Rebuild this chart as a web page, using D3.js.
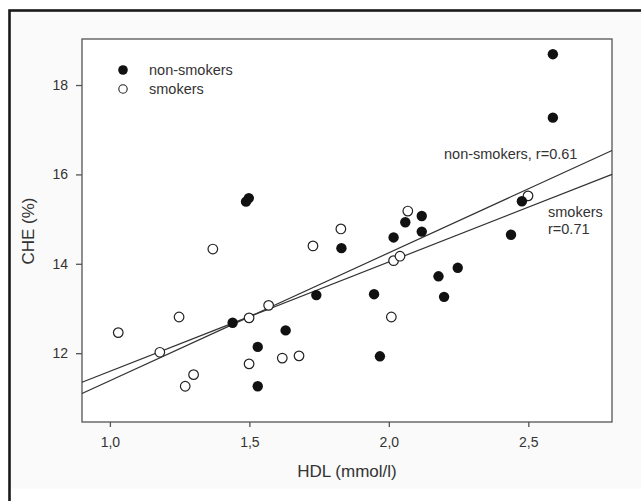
<!doctype html>
<html>
<head>
<style>
body { margin: 0; background: #fff; }
text { font-family: "Liberation Sans", Arial, sans-serif; fill: #333; }
.axis path, .axis line { stroke: #555; stroke-width: 1.3px; }
.axis text { font-size: 14px; fill: #333; }
.fit { fill: none; stroke: #333; stroke-width: 1.2px; }
</style>
</head>
<body>
<div id="root"></div>
<script src="https://d3js.org/d3.v7.min.js"></script>
<script>

// non-smokers (filled)
var nonX = [1.44, 1.488, 1.498, 1.53, 1.53, 1.63, 1.74, 1.83, 1.947, 1.968, 2.017, 2.059, 2.118, 2.118, 2.178, 2.198, 2.247, 2.438, 2.477, 2.588, 2.588];
var nonY = [12.68, 15.39, 15.47, 12.14, 11.26, 12.51, 13.30, 14.35, 13.32, 11.93, 14.59, 14.93, 15.07, 14.72, 13.72, 13.26, 13.91, 14.65, 15.40, 18.69, 17.27];

// smokers (open)
var smkX = [1.03, 1.179, 1.248, 1.27, 1.30, 1.369, 1.499, 1.499, 1.569, 1.618, 1.678, 1.728, 1.828, 2.009, 2.017, 2.04, 2.068, 2.499];
var smkY = [12.46, 12.02, 12.81, 11.26, 11.52, 14.33, 12.79, 11.76, 13.07, 11.89, 11.94, 14.40, 14.78, 12.81, 14.07, 14.17, 15.18, 15.52];

// regression lines [intercept, slope]
var nonFit = [8.52, 2.863];
var smkFit = [9.148, 2.447];

var xTicks = [1.0, 1.5, 2.0, 2.5];
var yTicks = [12, 14, 16, 18];

var W = 641, H = 501;
var m = { left: 82, top: 39, right: 612, bottom: 422 };

var svg = d3.select('#root').append('svg')
	.attr('width', W)
	.attr('height', H);

// outer frame
svg.append('rect')
	.attr('x', 9.5).attr('y', 10.5)
	.attr('width', 700).attr('height', 478)
	.attr('fill', '#fafafa');
svg.append('rect')
	.attr('x', 9.5).attr('y', 10.5)
	.attr('width', 700).attr('height', 600)
	.attr('fill', 'none')
	.attr('stroke', '#1a1a1a')
	.attr('stroke-width', 2.6);

var x = d3.scaleLinear().domain([0.9, 2.8]).range([m.left, m.right]);
var y = d3.scaleLinear().domain([10.46, 19.03]).range([m.bottom, m.top]);

svg.append('rect')
	.attr('x', m.left).attr('y', m.top)
	.attr('width', m.right - m.left).attr('height', m.bottom - m.top)
	.attr('fill', '#fff')
	.attr('stroke', '#555')
	.attr('stroke-width', 1.3);

var xAxis = svg.append('g')
	.attr('class', 'axis')
	.attr('transform', 'translate(0,' + m.bottom + ')')
	.call(d3.axisBottom(x).tickValues(xTicks).tickSize(5).tickPadding(10)
		.tickFormat(function(d){ return d3.format('.1f')(d).replace('.', ','); }));
xAxis.select('.domain').remove();

var yAxis = svg.append('g')
	.attr('class', 'axis')
	.attr('transform', 'translate(' + m.left + ',0)')
	.call(d3.axisLeft(y).tickValues(yTicks).tickSize(6).tickPadding(8));
yAxis.select('.domain').remove();

// axis titles
svg.append('text')
	.attr('x', 347).attr('y', 477)
	.attr('text-anchor', 'middle')
	.style('font-size', '17px')
	.text('HDL (mmol/l)');

svg.append('text')
	.attr('transform', 'translate(34,231) rotate(-90)')
	.attr('text-anchor', 'middle')
	.style('font-size', '17px')
	.text('CHE (%)');

// fit lines
var line = d3.line().x(function(d){ return x(d[0]); }).y(function(d){ return y(d[1]); });
[nonFit, smkFit].forEach(function(f){
	var dom = x.domain();
	svg.append('path')
		.attr('class', 'fit')
		.attr('d', line(dom.map(function(v){ return [v, f[0] + f[1] * v]; })));
});

// points
var plot = svg.append('g');
plot.selectAll('.smk')
	.data(d3.range(smkX.length))
	.enter().append('circle')
		.attr('cx', function(i){ return x(smkX[i]); })
		.attr('cy', function(i){ return y(smkY[i]); })
		.attr('r', 4.8)
		.attr('fill', '#fff')
		.attr('stroke', '#222')
		.attr('stroke-width', 1.2);

plot.selectAll('.non')
	.data(d3.range(nonX.length))
	.enter().append('circle')
		.attr('cx', function(i){ return x(nonX[i]); })
		.attr('cy', function(i){ return y(nonY[i]); })
		.attr('r', 5.2)
		.attr('fill', '#111');

// legend
svg.append('circle').attr('cx', 123).attr('cy', 70).attr('r', 4.8).attr('fill', '#111');
svg.append('circle').attr('cx', 123).attr('cy', 89).attr('r', 4.2)
	.attr('fill', '#fff').attr('stroke', '#222').attr('stroke-width', 1.1);
svg.append('text').attr('x', 149).attr('y', 75).style('font-size', '14.5px').text('non-smokers');
svg.append('text').attr('x', 149).attr('y', 94).style('font-size', '14.5px').text('smokers');

// line labels
svg.append('text').attr('x', 444).attr('y', 159).style('font-size', '14.5px').text('non-smokers, r=0.61');
svg.append('text').attr('x', 548).attr('y', 217).style('font-size', '14.5px').text('smokers');
svg.append('text').attr('x', 548).attr('y', 234).style('font-size', '14.5px').text('r=0.71');

</script>
</body>
</html>
